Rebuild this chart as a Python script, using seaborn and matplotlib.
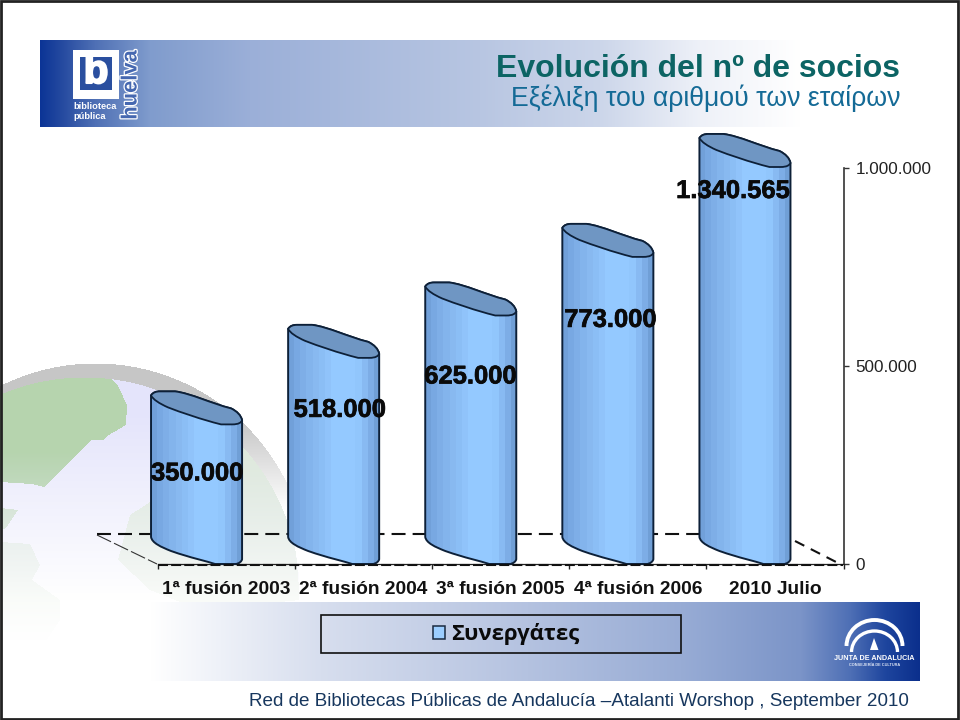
import numpy as np
import pandas as pd
import matplotlib
matplotlib.use("Agg")
import matplotlib.pyplot as plt
import matplotlib.patheffects as pe
from matplotlib.path import Path
from matplotlib.patches import PathPatch, Rectangle, Polygon, Arc, Patch
from matplotlib.transforms import Affine2D
from matplotlib.colors import to_rgb
import seaborn as sns

# ---------- data ----------
categories = ["1ª fusión 2003", "2ª fusión 2004", "3ª fusión 2005", "4ª fusión 2006", "2010 Julio"]
socios = [350000, 518000, 625000, 773000, 1340565]
value_labels = ["350.000", "518.000", "625.000", "773.000", "1.340.565"]
axis_ticks = [0, 500000, 1000000]
axis_tick_labels = ["0", "500.000", "1.000.000"]
series_name = "Συνεργάτες"
title_es = "Evolución del nº de socios"
title_el = "Εξέλιξη του αριθμού των εταίρων"
footer = "Red de Bibliotecas Públicas de Andalucía –Atalanti Worshop , September 2010"

# ---------- styling ----------
AXIS_MAX = 1000000
label_shift = [(-29.5, -48), (-24, -51), (-30.5, -60), (-27.5, -62), (-42, -23)]
DEPTH = 30  # px of the oblique 3-D floor

sns.set_style("white")
plt.rcParams["font.family"] = ["Liberation Sans", "DejaVu Sans"]

W, H = 960, 720
fig = plt.figure(figsize=(9.6, 7.2), dpi=100, facecolor="white")
bg = fig.add_axes([0, 0, 1, 1], zorder=0)
bg.set_xlim(0, W)
bg.set_ylim(H, 0)
bg.axis("off")

# ---------- background globe ----------
yy, xx = np.mgrid[0:H, 0:W]
img = np.ones((H, W, 3))
pts = np.c_[xx.ravel() + .5, yy.ravel() + .5]


def paint(mask, col, alpha):
    c = np.array(to_rgb(col))
    a = (alpha * mask)[..., None]
    img[:] = img * (1 - a) + c * a


fade_soft = np.clip((640 - yy) / 190.0, 0, 1) ** 1.1
outer = (xx - 95) ** 2 + (yy - 576) ** 2 < 213 ** 2
inner = (xx - 84) ** 2 + (yy - 592) ** 2 < 215 ** 2
paint(outer, "#c6c6c6", np.clip((510 - yy) / 90.0, 0, 1))
paint(inner, "#ffffff", 1.0)
paint(inner, "#e4e4fb", np.clip((600 - yy) / 190.0, 0, 1))

lands = [
    ([(0, 392), (30, 378), (60, 373), (106, 372), (118, 386), (127, 405), (126, 425), (107, 436),
      (104, 440), (92, 440), (44, 487), (32, 484), (0, 482)], "#b6d4ae", 1.0),
    ([(0, 508), (18, 510), (6, 528), (0, 530)], "#c6dcc0", 0.9),
    ([(0, 542), (30, 544), (40, 565), (32, 580), (60, 600), (60, 620), (40, 650), (0, 660)], "#cfe2ca", 0.6),
    ([(130, 515), (200, 470), (240, 420), (290, 480), (300, 600), (200, 610), (150, 590), (118, 560)], "#dbe9d4", 0.8),
]
for verts, col, al in lands:
    m = Path(verts).contains_points(pts).reshape(H, W)
    paint(m & inner, col, al * fade_soft)
bg.imshow(img, extent=(0, W, H, 0), aspect="auto", interpolation="bilinear", zorder=0)
bg.set_xlim(0, W)
bg.set_ylim(H, 0)


def band(x0, x1, y0, y1, stops_x, stops_c):
    xs = np.arange(x0, x1)
    cs = np.array([to_rgb(c) for c in stops_c])
    row = np.stack([np.interp(xs, stops_x, cs[:, i]) for i in range(3)], axis=-1)
    bg.imshow(row[None, ...], extent=(x0, x1, y1, y0), aspect="auto", zorder=1)


# header band
band(40, 820, 40, 127,
     [40, 60, 95, 150, 250, 480, 600, 700, 800],
     ["#0b3496", "#23489f", "#4f70b5", "#809ccd", "#9bafd8", "#b8c6e2", "#ccd6ea", "#eef1f8", "#ffffff"])
# footer band
band(150, 920, 602, 681,
     [150, 220, 320, 500, 680, 800, 850, 885, 919],
     ["#ffffff", "#eef1f8", "#d7deee", "#b9c6e2", "#98acd5", "#7b94c8", "#4e6fb5", "#1e459e", "#0b2f8c"])
bg.set_xlim(0, W)
bg.set_ylim(H, 0)

# logo: biblioteca pública huelva
bg.add_patch(Rectangle((73, 50), 46, 49, fc="white", ec="none", zorder=2))
bg.add_patch(Rectangle((80, 57), 32, 33, fc="#2a4f9f", ec="none", zorder=2))
bg.text(96, 72, "b", color="white", fontsize=29, fontweight="bold", ha="center", va="center", zorder=3,
        path_effects=[pe.withStroke(linewidth=1.5, foreground="white")])
bg.text(73, 106.5, "biblioteca", color="white", fontsize=6.7, fontweight="bold", va="center", zorder=3)
bg.text(73, 116.5, "pública", color="white", fontsize=6.7, fontweight="bold", va="center", zorder=3)
bg.text(131, 85, "huelva", color="#4668b0", fontsize=15.8, fontweight="bold", rotation=90,
        ha="center", va="center", zorder=3,
        path_effects=[pe.withStroke(linewidth=1.8, foreground="white")])

# logo: Junta de Andalucía
bg.add_patch(Arc((874.5, 646), 56, 52, theta1=180, theta2=360, ec="white", lw=2.8, zorder=3))
bg.add_patch(Arc((874.5, 652), 46, 42, theta1=180, theta2=360, ec="white", lw=2.4, zorder=3))
bg.add_patch(Polygon([(874, 638), (870, 650), (878.5, 650)], fc="white", ec="none", zorder=3))
bg.text(874.5, 658, "JUNTA DE ANDALUCIA", color="white", fontsize=5.2, fontweight="bold",
        ha="center", va="center", zorder=3)
bg.text(874.5, 664.5, "CONSEJERÍA DE CULTURA", color="#dfe6f5", fontsize=2.8, fontweight="bold",
        ha="center", va="center", zorder=3)

# texts on the slide
bg.text(496, 69, title_es, color="#0c6464", fontsize=23, fontweight="bold", va="center", zorder=4)
bg.text(511, 98, title_el, color="#146a96", fontsize=19.2, va="center", zorder=4)
bg.text(249, 701, footer, color="#17375e", fontsize=13.55, va="center", zorder=4)
bg.add_patch(Rectangle((321, 615), 360, 38, fc="none", ec="#111111", lw=1.2, zorder=4))
bg.add_patch(Rectangle((1, 1), 957, 718, fc="none", ec="#222222", lw=2, zorder=6))

# ---------- chart axes ----------
ax = fig.add_axes([158 / W, (H - 564) / H, (843.5 - 158) / W, (564 - 168) / H], zorder=2)
ax.patch.set_alpha(0)

drawn = np.minimum(socios, AXIS_MAX)  # the reference's scale cuts the last bar at its maximum
df = pd.DataFrame({"Periodo": categories, "Socios": drawn})
sns.barplot(data=df, x="Periodo", y="Socios", width=0.664, color="#94c9ff", saturation=1,
            legend=False, ax=ax, zorder=3)
ax.set_xlim(-0.5, 4.5)
ax.set_ylim(0, AXIS_MAX)
ax.set_xlabel("")
ax.set_ylabel("")

for s in ("top", "left"):
    ax.spines[s].set_visible(False)
ax.spines["right"].set_visible(True)
ax.spines["right"].set_color("#333333")
ax.spines["right"].set_linewidth(1.2)
ax.spines["bottom"].set_color("#222222")
ax.spines["bottom"].set_linewidth(0.9)

ax.yaxis.tick_right()
ax.set_yticks(axis_ticks)
ax.set_yticklabels(axis_tick_labels)
ax.tick_params(axis="y", which="major", direction="out", length=3.5, width=1, color="#333333",
               labelsize=12.3, labelcolor="#222222", pad=5, right=True, left=False)
ax.set_xticks(range(len(categories)))
ax.set_xticklabels(categories, fontweight="bold")
ax.tick_params(axis="x", which="major", length=0, labelsize=13.8, labelcolor="#111111", pad=12)
ax.set_xticks(np.arange(-0.5, len(categories)), minor=True)
ax.tick_params(axis="x", which="minor", direction="out", length=3.5, width=1, color="#222222", bottom=True)

# ref-pixel transform (y pointing down) -> display
px = Affine2D().scale(1, -1).translate(0, H)

# floor lines
thick = dict(color="#111111", lw=1.5, transform=px, clip_on=False, zorder=1, dash_capstyle="butt")
ax.plot([97, 790], [534, 534], dashes=(6.7, 3.4), **thick)
ax.plot([795, 840], [541, 564], dashes=(5, 3.5), **thick)
ax.plot([158, 843], [564.5, 564.5], dashes=(4.8, 1.5), color="#111111", lw=1.5, transform=px,
        clip_on=False, zorder=5)
ax.plot([97, 157], [535, 564], dashes=(14, 3), color="#333333", lw=0.8, transform=px, clip_on=False, zorder=1)

# ---------- cylinders built on the seaborn bars ----------
M, L, C, Z = Path.MOVETO, Path.LINETO, Path.CURVE4, Path.CLOSEPOLY
strip_pos = [0, .1, .2, .35, .5, .75, .87, 1]
strip_col = ["#6e9cd5", "#78a8e2", "#82b2ea", "#8bbdf4", "#94c9ff", "#94c9ff", "#83b4ed", "#6a99cf"]
n_strips = 15
t = (np.arange(n_strips) + .5) / n_strips
cs = np.array([to_rgb(c) for c in strip_col])
grad = np.stack([np.interp(t, strip_pos, cs[:, i]) for i in range(3)], axis=-1)[None, ...]

to_disp = ax.transData
inv = px.inverted()
for i, bar in enumerate(list(ax.patches)):
    bar.set_visible(False)
    bx, by = bar.get_x(), bar.get_y()
    p0 = inv.transform(to_disp.transform((bx, by)))
    p1 = inv.transform(to_disp.transform((bx + bar.get_width(), by + bar.get_height())))
    xl = p0[0] - DEPTH
    w = p1[0] - p0[0]
    yb = p0[1] - DEPTH
    yt = p1[1] - DEPTH
    sx = w / 91.0

    def P(u, v, y0):
        return (xl + u * sx, y0 + v)

    body_v = [P(0, 0, yt), P(0, 3, yb),
              P(1, 9, yb), P(10, 13, yb), P(20, 17, yb),
              P(40, 24, yb), P(55, 27, yb), P(64, 30, yb),
              P(84, 30, yb),
              P(88, 30, yb), P(91, 27, yb), P(91, 25, yb),
              P(91, 25, yt),
              P(90, 20, yt), P(86, 16, yt), P(80, 13, yt),
              P(60, 8, yt), P(40, -2, yt), P(24, -4, yt),
              P(9, -4, yt),
              P(5, -4, yt), P(2, -3, yt), P(0, 0, yt), P(0, 0, yt)]
    body_c = [M, L, C, C, C, C, C, C, L, C, C, C, L, C, C, C, C, C, C, L, C, C, C, Z]
    ax.add_patch(PathPatch(Path(body_v, body_c), fc="none", ec="#0d2038", lw=1.4, transform=px,
                           clip_on=False, zorder=4, joinstyle="round"))
    im = ax.imshow(grad, extent=(xl, xl + w, yb + 31, yt - 5), aspect="auto", transform=px,
                   interpolation="nearest", zorder=3)
    im.set_clip_box(fig.bbox)
    im.set_clip_path(Path(body_v, body_c), px)

    cap_v = [P(0, 0, yt),
             P(2, -3, yt), P(5, -4, yt), P(9, -4, yt),
             P(24, -4, yt),
             P(40, -2, yt), P(60, 8, yt), P(80, 13, yt),
             P(86, 16, yt), P(90, 20, yt), P(91, 25, yt),
             P(90, 27, yt), P(88, 29, yt), P(81, 29, yt),
             P(70, 29, yt),
             P(50, 24, yt), P(30, 17, yt), P(17, 12, yt),
             P(8, 8, yt), P(2, 4, yt), P(0, 0, yt), P(0, 0, yt)]
    cap_c = [M, C, C, C, L, C, C, C, C, C, C, C, C, C, L, C, C, C, C, C, C, Z]
    ax.add_patch(PathPatch(Path(cap_v, cap_c), fc="#6f96c3", ec="#0d2038", lw=1.3, transform=px,
                           clip_on=False, zorder=4.5))

    dx, dy = label_shift[i]
    ax.annotate(value_labels[i], xy=(i, drawn[i]), xytext=(dx, dy), textcoords="offset pixels",
                ha="center", va="center", fontsize=18.4, fontweight="bold", color="#0a0a0a",
                zorder=7, annotation_clip=False,
                path_effects=[pe.withStroke(linewidth=0.5, foreground="#0a0a0a")])

ax.set_xlim(-0.5, 4.5)
ax.set_ylim(0, AXIS_MAX)

# legend
handle = Patch(facecolor="#9cceff", edgecolor="#1a2a40", linewidth=1.1, label=series_name)
ax.legend(handles=[handle], loc="center", bbox_to_anchor=(506.5 / W, (H - 634) / H),
          bbox_transform=fig.transFigure, frameon=False, handlelength=0.55, handleheight=0.55,
          handletextpad=0.28, borderpad=0, labelcolor="#0a0a0a",
          prop={"family": "Open Sans", "weight": "bold", "size": 15.9})

fig.savefig("out.png", dpi=100)
